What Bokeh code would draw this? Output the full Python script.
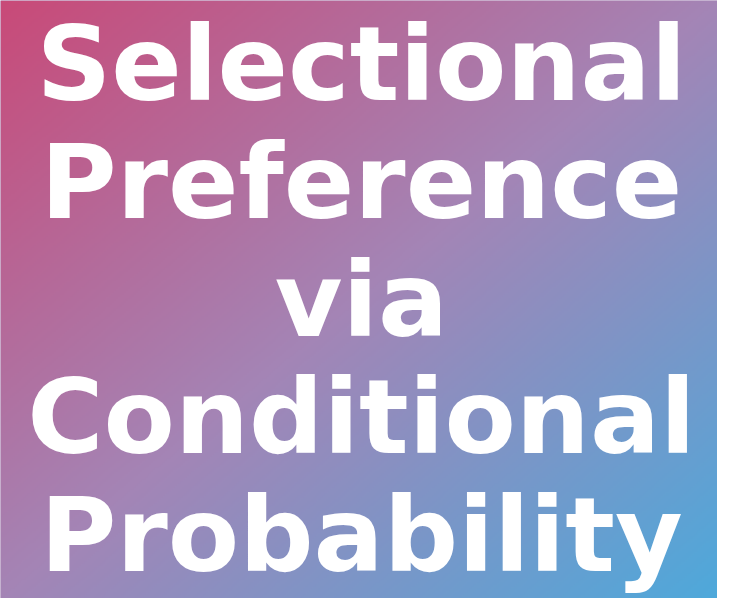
import numpy as np
from bokeh.plotting import figure
from bokeh.models import Range1d, ColumnDataSource
from bokeh.core.properties import value
from bokeh.embed import file_html
from bokeh.resources import INLINE

# Title lines (the chart's only content)
lines = ["Selectional", "Preference", "via", "Conditional", "Probability"]

# Gradient stops (top-left -> middle -> bottom-right)
stop_pos = [0.0, 0.5, 1.0]
stop_rgb = [(201, 74, 120), (164, 133, 182), (78, 169, 219)]

W, H = 733, 614
p = figure(width=717, height=598, output_backend="svg", toolbar_location=None,
           x_range=Range1d(0, W), y_range=Range1d(0, H), min_border=0)
p.axis.visible = False
p.grid.visible = False
p.outline_line_color = None
p.background_fill_color = "#a485b5"
p.border_fill_color = None

# background gradient image
nx, ny = 367, 307
xs = (np.arange(nx) + 0.5) / nx
ys = (np.arange(ny) + 0.5) / ny  # from top
X, Y = np.meshgrid(xs, ys)
t = (X + Y) / 2.0
chans = []
for c in range(3):
    chans.append(np.interp(t, stop_pos, [s[c] for s in stop_rgb]).astype(np.uint32))
img = (255 << 24) | (chans[2] << 16) | (chans[1] << 8) | chans[0]
img = np.flipud(img).astype(np.uint32)
p.image_rgba(image=[img], x=0, y=0, dw=W, dh=H)

# text lines
first_baseline = 100
spacing = 121
shift = 35  # renderer places alphabetic baseline lower; compensate
src = ColumnDataSource(dict(
    x=[369] * len(lines),
    y=[H - (first_baseline + spacing * i - shift) for i in range(len(lines))],
    text=lines,
))
p.text(x="x", y="y", text="text", source=src, text_font=value("DejaVu Sans"),
       text_font_style="bold", text_font_size="104px", text_color="white",
       text_align="center", text_baseline="alphabetic")

open("out.html", "w").write(file_html(p, INLINE))
